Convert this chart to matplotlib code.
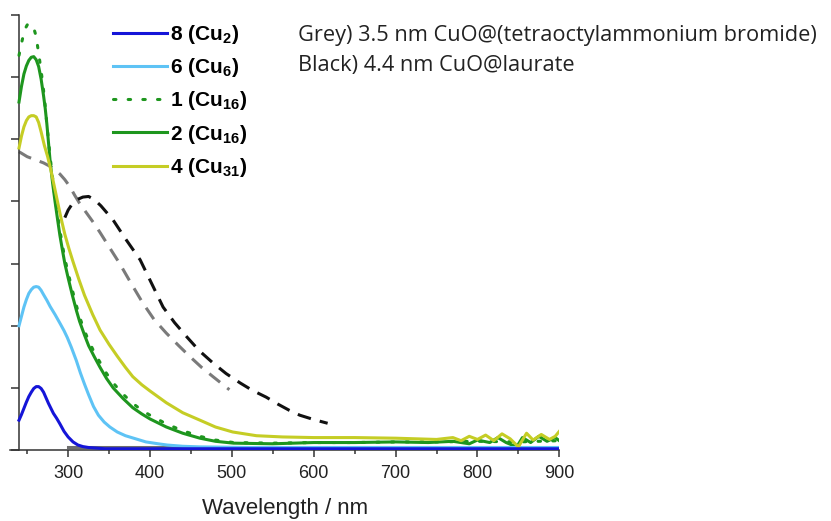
import numpy as np
import matplotlib
matplotlib.use('Agg')
import matplotlib.pyplot as plt
from matplotlib.ticker import MultipleLocator

# absorbance traces (wavelength in nm, absorbance in arbitrary units)
wl_cu2 = [240, 243, 246, 249, 252, 255, 258, 261, 264, 267, 270, 273, 276, 279, 282, 286, 290, 295, 300,
          306, 312, 318, 325, 335, 345, 400, 500, 600, 700, 800, 900]
ab_cu2 = [0.48, 0.57, 0.67, 0.77, 0.86, 0.93, 0.99, 1.02, 1.02, 0.99, 0.93, 0.84, 0.75, 0.67, 0.59, 0.51, 0.42, 0.30, 0.21,
          0.13, 0.08, 0.055, 0.04, 0.03, 0.02, 0.02, 0.02, 0.02, 0.02, 0.02, 0.02]

wl_cu6 = [240, 243, 246, 249, 252, 255, 258, 261, 264, 267, 270, 274, 278, 284, 290, 295, 299, 304, 310, 315,
          320, 325, 331, 337, 344, 351, 360, 370, 380, 395, 410, 421, 440, 461, 520, 600, 700, 800, 900]
ab_cu6 = [2.00, 2.15, 2.30, 2.42, 2.52, 2.58, 2.62, 2.63, 2.62, 2.57, 2.50, 2.41, 2.31, 2.18, 2.04, 1.92, 1.81, 1.65, 1.44, 1.24,
          1.06, 0.89, 0.70, 0.56, 0.45, 0.37, 0.29, 0.23, 0.19, 0.13, 0.10, 0.08, 0.06, 0.05, 0.04, 0.04, 0.04, 0.04, 0.04]

wl_cu16a = [240, 242, 244, 246, 248, 250, 252, 254, 256, 258, 260, 262, 264, 266, 268, 271, 274, 278, 281, 284, 287,
            290, 293, 296, 300, 305, 310, 314, 320, 325, 332, 339, 347, 355, 367, 379, 390, 400, 420, 440, 461, 480,
            502, 550, 600, 650, 700, 750, 800, 850, 900]
ab_cu16a = [6.35, 6.48, 6.60, 6.71, 6.79, 6.84, 6.86, 6.86, 6.84, 6.79, 6.70, 6.56, 6.38, 6.20, 6.00, 5.68, 5.25, 4.72, 4.38, 4.07, 3.80,
            3.53, 3.30, 3.08, 2.85, 2.58, 2.33, 2.14, 1.92, 1.76, 1.57, 1.41, 1.23, 1.08, 0.90, 0.75, 0.64, 0.56, 0.42, 0.31, 0.22, 0.16,
            0.12, 0.11, 0.12, 0.12, 0.13, 0.13, 0.14, 0.13, 0.15]

wl_cu16b = [240, 243, 246, 249, 252, 255, 258, 261, 264, 267, 270, 272, 274, 276, 278, 281, 284, 287, 290, 293, 296,
            300, 305, 310, 314, 320, 325, 332, 339, 347, 355, 367, 379, 390, 400, 420, 440, 461, 480, 502, 550, 600,
            650, 700, 740, 770, 790, 800, 815, 825, 835, 848, 855, 865, 875, 885, 895, 900]
ab_cu16b = [5.60, 5.85, 6.05, 6.18, 6.27, 6.32, 6.33, 6.28, 6.17, 5.97, 5.70, 5.50, 5.25, 4.95, 4.65, 4.30, 4.00, 3.72, 3.45, 3.22, 3.00,
            2.77, 2.50, 2.25, 2.07, 1.85, 1.68, 1.50, 1.33, 1.15, 1.00, 0.83, 0.68, 0.58, 0.50, 0.37, 0.27, 0.19, 0.14, 0.11, 0.10, 0.12,
            0.12, 0.13, 0.12, 0.14, 0.10, 0.16, 0.12, 0.20, 0.12, 0.05, 0.20, 0.12, 0.22, 0.14, 0.20, 0.15]

wl_cu31 = [240, 243, 246, 249, 252, 255, 258, 261, 264, 267, 271, 275, 279, 283, 287, 291, 296, 301, 306, 313, 320,
           330, 339, 350, 360, 370, 379, 390, 400, 420, 440, 461, 480, 501, 530, 562, 600, 650, 700, 750, 770, 780,
           790, 800, 810, 820, 830, 840, 850, 860, 868, 878, 888, 895, 900]
ab_cu31 = [4.86, 5.05, 5.20, 5.30, 5.36, 5.38, 5.38, 5.36, 5.27, 5.12, 4.90, 4.72, 4.50, 4.25, 4.00, 3.75, 3.47, 3.24, 3.03, 2.75, 2.49,
           2.18, 1.93, 1.70, 1.51, 1.33, 1.18, 1.05, 0.95, 0.76, 0.60, 0.48, 0.37, 0.29, 0.23, 0.21, 0.20, 0.20, 0.19, 0.17, 0.20, 0.15,
           0.22, 0.17, 0.24, 0.15, 0.26, 0.18, 0.05, 0.27, 0.16, 0.25, 0.17, 0.22, 0.30]

wl_toab = [240, 250, 260, 270, 280, 290, 296, 302, 308, 314, 320, 326, 332, 339, 350, 363, 377, 391, 405, 420, 435, 449,
           463, 477, 497]
ab_toab = [4.80, 4.72, 4.67, 4.62, 4.55, 4.44, 4.35, 4.24, 4.10, 3.97, 3.86, 3.75, 3.64, 3.50, 3.27, 3.00, 2.68, 2.37, 2.10, 1.88,
           1.68, 1.50, 1.33, 1.18, 0.97]

wl_laur = [296, 300, 305, 311, 318, 325, 332, 340, 355, 370, 388, 402, 416, 430, 445, 460, 477, 493, 510, 525, 542, 556,
           570, 583, 600, 617]
ab_laur = [3.74, 3.86, 3.96, 4.03, 4.07, 4.08, 4.03, 3.93, 3.70, 3.40, 3.06, 2.68, 2.30, 2.05, 1.82, 1.60, 1.40, 1.23, 1.08, 0.96,
           0.85, 0.74, 0.64, 0.56, 0.49, 0.43]

wl_base = [300, 900]
ab_base = [0.05, 0.05]

labels = [r'8 (Cu$_{\mathbf{2}}$)', r'6 (Cu$_{\mathbf{6}}$)', r'1 (Cu$_{\mathbf{16}}$)',
          r'2 (Cu$_{\mathbf{16}}$)', r'4 (Cu$_{\mathbf{31}}$)']

plt.rcParams['font.family'] = 'Liberation Sans'
plt.rcParams['mathtext.fontset'] = 'custom'
plt.rcParams['mathtext.rm'] = 'Liberation Sans'
plt.rcParams['mathtext.bf'] = 'Liberation Sans:bold'

fig = plt.figure(figsize=(8.31, 5.21), dpi=100)
ax = fig.add_axes([10 / 831, 1 - 450 / 521, (559.3 - 10) / 831, 435 / 521])

lw = 2.2
ax.plot(wl_base, ab_base, color='#6e6e6e', lw=lw, zorder=1)
ax.plot(wl_toab, ab_toab, color='#7a7a7a', lw=lw, linestyle=(0, (4.5, 3)), zorder=2)
ax.plot(wl_laur, ab_laur, color='#111111', lw=lw, linestyle=(0, (4.5, 3)), zorder=2)

l1, = ax.plot(wl_cu2, ab_cu2, color='#1515d8', lw=lw, zorder=5)
l2, = ax.plot(wl_cu6, ab_cu6, color='#5ec3f5', lw=lw, zorder=4)
l3, = ax.plot(wl_cu16a, ab_cu16a, color='#1e961e', lw=lw, linestyle=(0, (0.8, 4)),
              dash_capstyle='round', zorder=3)
l4, = ax.plot(wl_cu16b, ab_cu16b, color='#1e961e', lw=lw, zorder=3)
l5, = ax.plot(wl_cu31, ab_cu31, color='#c5cd25', lw=lw, zorder=4)

ax.set_xlim(229, 900)
ax.set_ylim(0, 7)

for s in ['top', 'right']:
    ax.spines[s].set_visible(False)
ax.spines['left'].set_position(('data', 240))
for s in ['left', 'bottom']:
    ax.spines[s].set_color('#333333')
    ax.spines[s].set_linewidth(1.1)

ax.xaxis.set_major_locator(MultipleLocator(100))
ax.xaxis.set_minor_locator(MultipleLocator(50))
ax.yaxis.set_major_locator(MultipleLocator(1))
ax.tick_params(axis='x', which='major', direction='out', length=5, width=1.1, color='#333333',
               labelsize=13, labelcolor='#222222', pad=6)
ax.tick_params(axis='x', which='minor', direction='out', length=3, width=1.1, color='#333333')
ax.tick_params(axis='y', which='major', direction='out', length=6, width=1.1, color='#333333',
               labelleft=False)
ax.set_xticks([300, 400, 500, 600, 700, 800, 900])
ax.set_xlabel('Wavelength / nm', fontsize=16, color='#222222', labelpad=11)

leg = ax.legend([l1, l2, l3, l4, l5], labels, loc='upper left',
                bbox_to_anchor=(113 / 831, 1 - 23 / 521), bbox_transform=fig.transFigure,
                frameon=False, borderpad=0, borderaxespad=0, handlelength=2.6,
                handletextpad=0.15, labelspacing=0.49,
                prop={'family': 'Liberation Sans', 'weight': 'bold', 'size': 15})

fig.text(298 / 831, 1 - 35 / 521, 'Grey) 3.5 nm CuO@(tetraoctylammonium bromide)',
         family='Open Sans', fontsize=15.7, color='#222222', va='center', ha='left')
fig.text(298 / 831, 1 - 65 / 521, 'Black) 4.4 nm CuO@laurate',
         family='Open Sans', fontsize=15.7, color='#222222', va='center', ha='left')

fig.savefig('out.png', dpi=100)
